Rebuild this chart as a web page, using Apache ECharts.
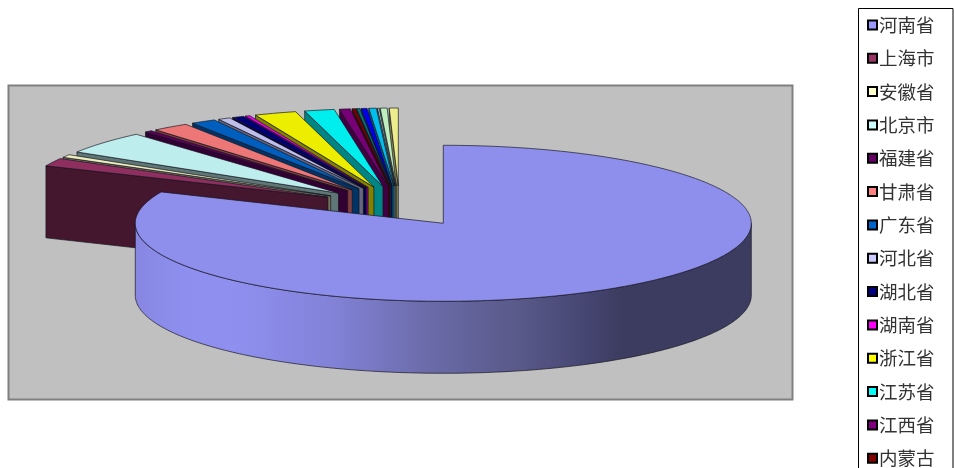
<!DOCTYPE html>
<html><head><meta charset="utf-8">
<style>html,body{margin:0;padding:0;background:#fff}#c{width:954px;height:468px}</style>
<script src="https://cdn.jsdelivr.net/npm/echarts@6/dist/echarts.min.js"></script>
</head><body><div id="c"></div>
<script>
// Slice shares in percent, clockwise from 12 o'clock
const categories = ['河南省','上海市','安徽省','北京市','福建省','甘肃省','广东省','河北省','湖北省','湖南省','浙江省','江苏省','江西省','内蒙古','未显示15','未显示16','未显示17','未显示18','未显示19','未显示20'];
const shares = [81.6,1.66,0.61,4.75,0.39,1.92,1.31,0.64,0.61,0.25,2.19,1.56,0.56,0.19,0.17,0.31,0.39,0.08,0.36,0.47];
const colors = ['#9999FF','#993366','#FFFFCC','#CCFFFF','#660066','#FF8080','#0066CC','#CCCCFF','#000080','#FF00FF','#FFFF00','#00FFFF','#800080','#800000','#008080','#0000FF','#00CCFF','#CCFFFF','#CCFFCC','#FFFF99'];
const legendNames = categories.slice(0,14);

const CX=399.5, CY=206.3, RX=308, RY=78, DEPTH=72, EXPLODE=0.26;
const total = shares.reduce((a,b)=>a+b,0);
const spans = []; let acc=0;
shares.forEach(v=>{const a=acc/total*Math.PI*2; acc+=v; spans.push([a,acc/total*Math.PI*2]);});

function shade(hex,k){const n=parseInt(hex.slice(1),16);
  return 'rgb('+[(n>>16)&255,(n>>8)&255,n&255].map(c=>Math.round(c*k)).join(',')+')';}
function renderSlice(i){
  const [a0,a1]=spans[i], mid=(a0+a1)/2;
  const ax=CX+EXPLODE*RX*Math.sin(mid), ay=CY-EXPLODE*RY*Math.cos(mid);
  const pt=(t,d)=>[ax+RX*Math.sin(t), ay-RY*Math.cos(t)+(d||0)];
  const top=[[ax,ay]];
  const n=Math.max(2,Math.ceil((a1-a0)/0.01));
  for(let k=0;k<=n;k++) top.push(pt(a0+(a1-a0)*k/n));
  const line={stroke:'rgba(20,20,30,0.85)',lineWidth:0.8};
  const children=[];
  if(i===0){
    const w=[]; const s=Math.PI/2,e=Math.PI*1.5;
    for(let k=0;k<=200;k++) w.push(pt(s+(e-s)*k/200));
    for(let k=200;k>=0;k--) w.push(pt(s+(e-s)*k/200,DEPTH));
    children.push({type:'polygon',shape:{points:w},style:Object.assign({fill:{type:'linear',x:0,y:0,x2:1,y2:0,colorStops:[
      {offset:0,color:'#8787e2'},{offset:0.09,color:'#8f8ff0'},{offset:0.16,color:'#8f8ff0'},{offset:0.32,color:'#8282d8'},
      {offset:0.48,color:'#6a6aa8'},{offset:0.63,color:'#585888'},{offset:0.74,color:'#444470'},{offset:0.79,color:'#3c3c60'},{offset:1,color:'#3c3c60'}]}},line)});
  } else {
    const k=0.40+0.12*Math.cos(a0);
    const wall=[[ax,ay],pt(a0),pt(a0,DEPTH),[ax,ay+DEPTH]];
    children.push({type:'polygon',shape:{points:wall},style:Object.assign({fill:shade(colors[i],k)},line)});
  }
  children.push({type:'polygon',shape:{points:top},style:Object.assign({fill:shade(colors[i],0.93)},line)});
  return {type:'group',children};
}
// Paint far slices first, the first slice last so it overlaps them
const order=[]; for(let i=categories.length-1;i>=0;i--) order.push(i);
const series=order.map(i=>({
  type:'custom',name:categories[i],coordinateSystem:'none',silent:true,animation:false,
  data:[{name:categories[i],value:shares[i]}],
  itemStyle:{color:colors[i],borderColor:'#000',borderWidth:1.5},
  renderItem:()=>renderSlice(i)
}));
const chart=echarts.init(document.getElementById('c'),null,{renderer:'canvas'});
chart.setOption({
  animation:false,backgroundColor:'#fff',
  graphic:[
    {type:'rect',z:-10,shape:{x:8.5,y:85.5,width:784,height:314},style:{fill:'#C0C0C0',stroke:'#808080',lineWidth:2}},
    {type:'rect',z:-10,shape:{x:858.5,y:8.5,width:94.5,height:480},style:{fill:'#fff',stroke:'#000',lineWidth:1}}
  ],
  legend:{show:true,orient:'vertical',left:867,top:15.7,height:500,itemWidth:9,itemHeight:9,itemGap:14.83,
    data:legendNames.map(n=>({name:n,icon:'rect'})),selectedMode:false,padding:0,
    textStyle:{fontFamily:'"Noto Sans CJK SC"',fontSize:18.5,color:'#333',padding:[0,0,0,-3],lineHeight:18,height:18}},
  series
});
</script></body></html>
